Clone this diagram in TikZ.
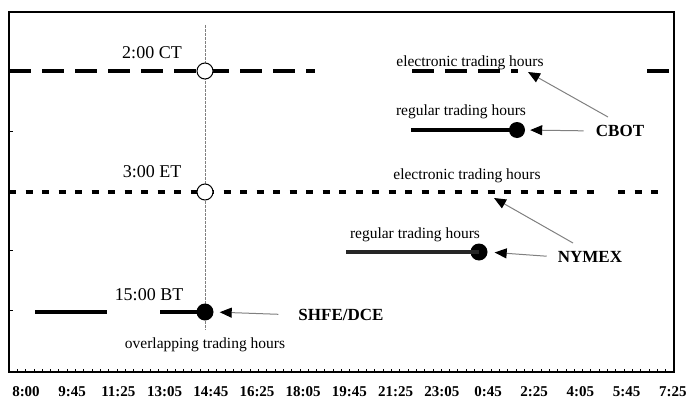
\documentclass[tikz,border=0pt]{standalone}
\usepackage{fontspec}
\setmainfont{Liberation Serif}
\usetikzlibrary{arrows.meta}
\begin{document}
\begin{tikzpicture}[x=1pt,y=-1pt,
  frame/.style={line width=1.6pt},
  ctline/.style={line width=4.5pt, dash pattern=on 22pt off 11pt},
  etline/.style={line width=4.2pt, dash pattern=on 7pt off 9.5pt},
  regline/.style={line width=3.6pt},
  vline/.style={gray, line width=0.9pt, dash pattern=on 2.5pt off 1.5pt},
  opendot/.style={circle, draw, fill=white, line width=1pt, minimum size=16pt, inner sep=0pt},
  fulldot/.style={circle, fill=black, minimum size=17pt, inner sep=0pt},
  ptr/.style={draw=gray, line width=1pt, -{Triangle[length=12pt,width=10pt,color=black,fill=black]}},
  biglbl/.style={font=\fontsize{18}{20}\selectfont, inner sep=0pt},
  boldlbl/.style={font=\fontsize{17}{19}\selectfont\bfseries, inner sep=0pt},
  smalllbl/.style={font=\fontsize{15.5}{17}\selectfont, inner sep=0pt},
  axislbl/.style={font=\fontsize{15}{17}\selectfont\bfseries, inner sep=0pt}
]
\useasboundingbox (0,0) rectangle (689,399);
% frame
\draw[frame] (9,12) rectangle (674,372);
% left ticks
\foreach \yy in {72,131.5,191,250.5,310}
  \draw[line width=1pt] (9,\yy) -- (13,\yy);
% bottom ticks
\foreach \i in {1,...,79}
  \draw[line width=0.8pt] ({9+\i*8.3125},372) -- ({9+\i*8.3125},368.5);
% axis labels
\foreach \t [count=\i from 0] in {8:00,9:45,11:25,13:05,14:45,16:25,18:05,19:45,21:25,23:05,0:45,2:25,4:05,5:45,7:25}
  \node[axislbl] (ax\i) at ({26+\i*46.2},392) {\t};
% vertical guide
\coordinate (vtop) at (205,25);
\coordinate (vbot) at (205,330);
\draw[vline] (vtop) -- (vbot);
% CT electronic line
\coordinate (ct1s) at (9,71);   \coordinate (ct1e) at (315,71);
\coordinate (ct2s) at (412,71); \coordinate (ct2e) at (518,71);
\coordinate (ct3s) at (647,71); \coordinate (ct3e) at (674,71);
\draw[ctline] (ct1s) -- (ct1e);
\draw[ctline] (ct2s) -- (ct2e);
\draw[ctline] (ct3s) -- (ct3e);
% ET electronic line
\coordinate (et1s) at (9,192);   \coordinate (et1e) at (594,192);
\coordinate (et2s) at (618,192); \coordinate (et2e) at (666,192);
\draw[etline] (et1s) -- (et1e);
\draw[etline] (et2s) -- (et2e);
% open circles
\node[opendot] (ctc) at (205,71) {};
\node[opendot] (etc) at (205,192) {};
% CBOT regular
\coordinate (cbs) at (411,130);
\node[fulldot, minimum size=16pt] (cbdot) at (517,130) {};
\draw[regline] (cbs) -- (cbdot.center);
% NYMEX regular
\coordinate (nys) at (346,252);
\node[fulldot] (nydot) at (479,252) {};
\draw[regline, black!85] (nys) -- (nydot.center);
% SHFE
\coordinate (sh1s) at (35,312); \coordinate (sh1e) at (107,312);
\coordinate (sh2s) at (160,312);
\node[fulldot] (shdot) at (205,312) {};
\draw[regline] (sh1s) -- (sh1e);
\draw[regline] (sh2s) -- (shdot.center);
% labels
\node[biglbl] (ctl) at (152,53) {2:00 CT};
\node[biglbl] (etl) at (152,172) {3:00 ET};
\node[biglbl] (btl) at (149,295) {15:00 BT};
\node[smalllbl] (el1) at (470,63) {electronic trading hours};
\node[smalllbl] (rg1) at (461,112) {regular trading hours};
\node[smalllbl] (el2) at (467,176) {electronic trading hours};
\node[smalllbl] (rg2) at (415,235) {regular trading hours};
\node[smalllbl] (ovl) at (205,345) {overlapping trading hours};
\node[boldlbl] (cbot) at (620,131) {CBOT};
\node[boldlbl] (nymex) at (590,257) {NYMEX};
\node[boldlbl] (shfe) at (341,315) {SHFE/DCE};
% pointers
\coordinate (cbtail) at (608,117); \coordinate (cbtip) at (528,72);
\coordinate (nytail) at (573,243); \coordinate (nytip) at (494,198);
\draw[ptr] (cbtail) -- (cbtip);
\draw[ptr] (nytail) -- (nytip);
\draw[ptr, shorten <=12pt, shorten >=5pt] (cbot.west) -- (cbdot.east);
\draw[ptr, shorten <=11pt, shorten >=7pt] (nymex.west) -- (nydot.east);
\draw[ptr, shorten <=20pt, shorten >=6pt] (shfe.west) -- (shdot.east);
\end{tikzpicture}
\end{document}
